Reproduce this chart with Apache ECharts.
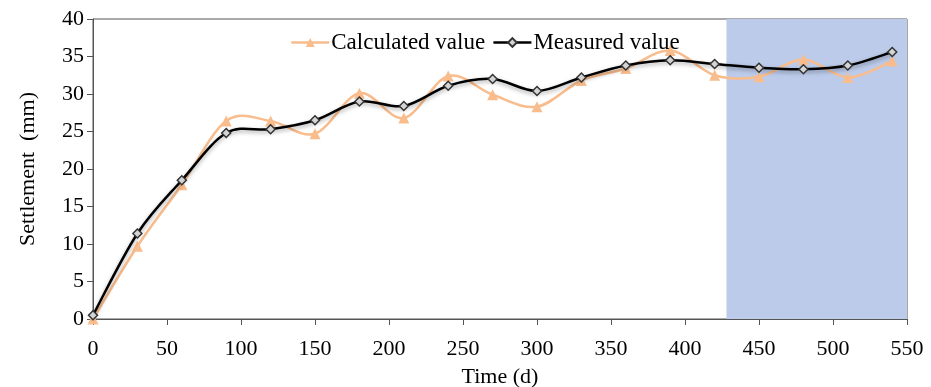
<!DOCTYPE html>
<html>
<head>
<meta charset="utf-8">
<script src="https://cdn.jsdelivr.net/npm/echarts@6/dist/echarts.min.js"></script>
<style>
  html, body { margin: 0; padding: 0; background: #fff; }
  #chart { width: 931px; height: 387px; }
</style>
</head>
<body>
<div id="chart"></div>
<script>
// time in days
const days = [0, 30, 60, 90, 120, 150, 180, 210, 240, 270, 300, 330, 360, 390, 420, 450, 480, 510, 540]
const calculated = [0, 9.7, 17.9, 26.4, 26.4, 24.7, 30.1, 26.8, 32.4, 29.9, 28.3, 31.8, 33.4, 35.8, 32.5, 32.3, 34.6, 32.2, 34.4]
const measured = [0.5, 11.4, 18.5, 24.8, 25.3, 26.5, 29.0, 28.4, 31.1, 32.0, 30.4, 32.2, 33.8, 34.5, 34.0, 33.5, 33.3, 33.8, 35.6]
// shaded prediction zone (days)
const zoneStart = 428
const zoneEnd = 550

const font = 'Liberation Serif'
const calcColor = '#f9bc8c'
const pairs = ys => days.map((d, i) => [d, ys[i]])

// excel-like smoothed curve (catmull-rom through the points, in pixel space)
function curveItem(ys, style) {
  return function (params, api) {
    if (params.dataIndex !== 0) return null
    const p = days.map((d, i) => api.coord([d, ys[i]]))
    let path = 'M' + p[0][0] + ' ' + p[0][1]
    for (let i = 0; i < p.length - 1; i++) {
      const p0 = p[Math.max(i - 1, 0)], p1 = p[i], p2 = p[i + 1], p3 = p[Math.min(i + 2, p.length - 1)]
      const c1 = [p1[0] + (p2[0] - p0[0]) / 6, p1[1] + (p2[1] - p0[1]) / 6]
      const c2 = [p2[0] - (p3[0] - p1[0]) / 6, p2[1] - (p3[1] - p1[1]) / 6]
      path += ' C' + c1.join(' ') + ' ' + c2.join(' ') + ' ' + p2.join(' ')
    }
    return { type: 'path', shape: { pathData: path }, style: Object.assign({ fill: null }, style) }
  }
}

const chart = echarts.init(document.getElementById('chart'))
chart.setOption({
  animation: false,
  textStyle: { fontFamily: font },
  grid: {
    left: 93, right: 24, top: 19, bottom: 68, outerBoundsMode: 'none',
    show: true, borderColor: '#555', borderWidth: 1,
  },
  legend: {
    left: 285, top: 26,
    itemWidth: 38, itemHeight: 11, itemGap: 7,
    textStyle: { fontFamily: font, fontSize: 23, color: '#000', padding: [0, 0, 0, -3] },
    data: [
      { name: 'Calculated value', lineStyle: { color: calcColor, width: 2.5, opacity: 1 } },
      { name: 'Measured value', lineStyle: { color: '#000', width: 2.5, opacity: 1 } },
    ],
  },
  xAxis: {
    type: 'value', min: 0, max: 550, interval: 50,
    name: 'Time (d)', nameLocation: 'middle', nameGap: 47,
    nameTextStyle: { fontFamily: font, fontSize: 22, color: '#000' },
    axisLine: { lineStyle: { color: '#555' } },
    axisTick: { length: 6, lineStyle: { color: '#555' } },
    axisLabel: { fontFamily: font, fontSize: 22, color: '#000', margin: 19 },
    splitLine: { show: false },
  },
  yAxis: {
    type: 'value', min: 0, max: 40, interval: 5,
    name: 'Settlement  (mm)', nameLocation: 'middle', nameGap: 54,
    nameTextStyle: { fontFamily: font, fontSize: 22, color: '#000' },
    axisLine: { show: true, lineStyle: { color: '#555' } },
    axisTick: { show: true, length: 6, lineStyle: { color: '#555' } },
    axisLabel: { fontFamily: font, fontSize: 22, color: '#000', margin: 9 },
    splitLine: { show: false },
  },
  series: [
    {
      name: 'zone', type: 'line', data: [], z: 0, silent: true,
      markArea: {
        silent: true,
        itemStyle: { color: '#bccbea' },
        data: [[{ xAxis: zoneStart }, { xAxis: zoneEnd }]],
      },
    },
    {
      name: 'calcCurve', type: 'custom', z: 2, silent: true,
      data: pairs(calculated),
      renderItem: curveItem(calculated, { stroke: calcColor, lineWidth: 2.5 }),
    },
    {
      name: 'Calculated value', type: 'line', z: 3,
      data: pairs(calculated),
      symbol: 'triangle', symbolSize: 11,
      lineStyle: { color: calcColor, width: 0, opacity: 0 },
      itemStyle: { color: calcColor },
    },
    {
      name: 'measCurve', type: 'custom', z: 4, silent: true,
      data: pairs(measured),
      renderItem: curveItem(measured, {
        stroke: '#000', lineWidth: 2.5,
        shadowBlur: 4, shadowColor: 'rgba(0,0,0,0.35)', shadowOffsetY: 2,
      }),
    },
    {
      name: 'Measured value', type: 'line', z: 5,
      data: pairs(measured),
      symbol: 'diamond', symbolSize: 9,
      lineStyle: { color: '#000', width: 0, opacity: 0 },
      itemStyle: { color: '#d4d4d4', borderColor: '#333', borderWidth: 1.5 },
    },
  ],
})
</script>
</body>
</html>
